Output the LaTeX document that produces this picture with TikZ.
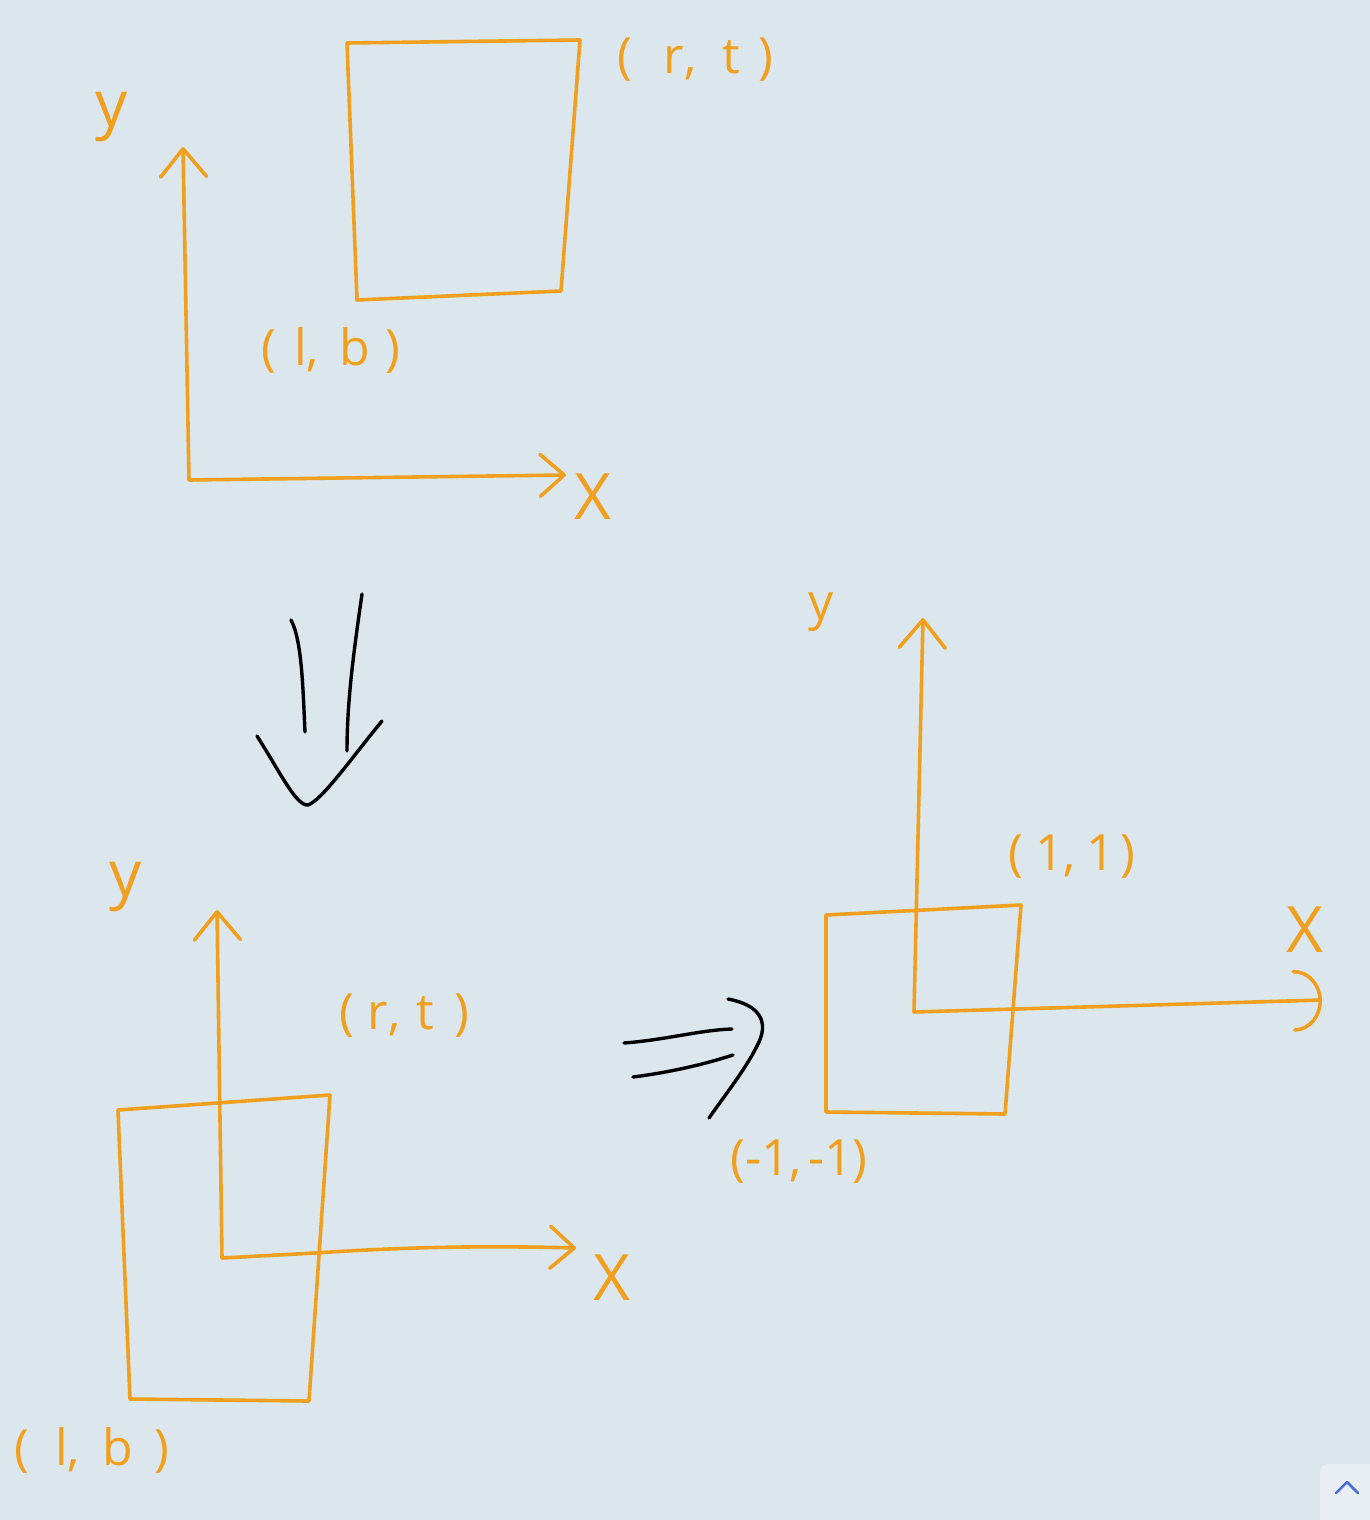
\documentclass[tikz,border=0pt]{standalone}
\usepackage{fontspec}
\setmainfont{Open Sans}
\usetikzlibrary{arrows.meta}
\definecolor{paper}{RGB}{220,230,237}
\definecolor{orng}{RGB}{240,160,30}
\definecolor{chev}{RGB}{72,110,215}
\newcommand{\gp}[1]{\hspace{#1pt}}
\tikzset{
  ax/.style={draw=orng, line width=3.6pt, line cap=round, line join=round},
  ink/.style={draw=black, line width=3.4pt, line cap=round, line join=round},
  lbl/.style={text=orng, inner sep=0pt, font=\fontsize{50}{52}\selectfont},
  biglbl/.style={text=orng, inner sep=0pt, font=\fontsize{64}{66}\selectfont},
  ytip/.tip={Straight Barb[length=28pt,width=46pt,line join=round,line cap=round]},
  xtip/.tip={Straight Barb[length=24pt,width=42pt,line join=round,line cap=round]},
  atip/.tip={Arc Barb[length=28pt,width=62pt,line cap=round]}
}
\begin{document}
\begin{tikzpicture}[x=1pt,y=-1pt]
\fill[paper] (0,0) rectangle (1370,1520);
\useasboundingbox (0,0) rectangle (1370,1520);
% corner button
\fill[white, opacity=0.35, rounded corners=8pt] (1320,1464) rectangle (1380,1530);
\draw[chev, line width=2.5pt, line cap=round, line join=round] (1336,1493) -- (1347,1482) -- (1358,1493);

% ---------- top diagram ----------
\coordinate (o1) at (189,480);
\coordinate (y1) at (183,147);
\coordinate (x1) at (566,475);
\draw[ax, ytip-xtip] (y1) -- (o1) -- (x1);
\node[biglbl] (ylab1) at (112,117) {y};
\node[biglbl] (xlab1) at (593,497) {X};
\coordinate (r1a) at (347,43);
\coordinate (r1b) at (580,40);
\coordinate (r1c) at (561,291);
\coordinate (r1d) at (357,300);
\draw[ax] (r1a) -- (r1b) -- (r1c) -- (r1d) -- cycle;
\node[lbl] (rt1) at (695,60) {(\gp{32}r,\gp{26}t\gp{18})};
\node[lbl] (lb1) at (331,350) {(\gp{18}l,\gp{20}b\gp{16})};

% down arrow
\coordinate (d1) at (291,620);
\coordinate (d2) at (305,732);
\coordinate (d3) at (362,594);
\coordinate (d4) at (347,751);
\coordinate (d5) at (257,736);
\coordinate (d6) at (308,805);
\coordinate (d7) at (382,721);
\draw[ink] (d1) .. controls (302,640) and (303,690) .. (d2);
\draw[ink] (d3) .. controls (354,650) and (347,700) .. (d4);
\draw[ink] (d5) .. controls (280,772) and (296,806) .. (d6) .. controls (322,800) and (350,760) .. (d7);

% ---------- bottom left diagram ----------
\coordinate (o2) at (222,1258);
\coordinate (y2) at (217,910);
\coordinate (x2) at (576,1248);
\draw[ax, ytip-xtip] (y2) -- (o2) -- (315,1253) .. controls (420,1246) and (500,1246) .. (x2);
\node[biglbl] (ylab2) at (126,887) {y};
\node[biglbl] (xlab2) at (612,1278) {X};
\coordinate (r2a) at (118,1110);
\coordinate (r2b) at (330,1095);
\coordinate (r2c) at (309,1401);
\coordinate (r2d) at (130,1399);
\draw[ax] (r2a) -- (r2b) -- (r2c) -- (r2d) -- cycle;
\node[lbl] (rt2) at (404,1016) {(\gp{14}r,\gp{16}t\gp{20})};
\node[lbl] (lb2) at (92,1450) {(\gp{26}l,\gp{22}b\gp{22})};

% implication arrow
\coordinate (i1) at (624,1043);
\coordinate (i2) at (732,1029);
\coordinate (i3) at (633,1077);
\coordinate (i4) at (733,1055);
\coordinate (i5) at (728,999);
\coordinate (i6) at (709,1118);
\draw[ink] (i1) .. controls (665,1040) and (700,1030) .. (i2);
\draw[ink] (i3) .. controls (672,1072) and (705,1064) .. (i4);
\draw[ink] (i5) .. controls (760,1005) and (770,1022) .. (757,1046) .. controls (745,1070) and (725,1095) .. (i6);

% ---------- right diagram ----------
\coordinate (o3) at (914,1012);
\coordinate (y3) at (923,618);
\coordinate (x3) at (1322,1000);
\draw[ax, ytip-atip] (y3) -- (o3) -- (x3);
\node[lbl] (ylab3) at (821,612) {y};
\node[biglbl] (xlab3) at (1305,930) {X};
\coordinate (r3a) at (826,915);
\coordinate (r3b) at (1021,905);
\coordinate (r3c) at (1005,1114);
\coordinate (r3d) at (826,1112);
\draw[ax] (r3a) -- (r3b) -- (r3c) -- (r3d) -- cycle;
\node[lbl] (p11) at (1072,857) {(\gp{12}1,\gp{10}1\gp{6})};
\node[lbl] (m11) at (799,1162) {(-1,\gp{6}-1)};
\end{tikzpicture}
\end{document}
